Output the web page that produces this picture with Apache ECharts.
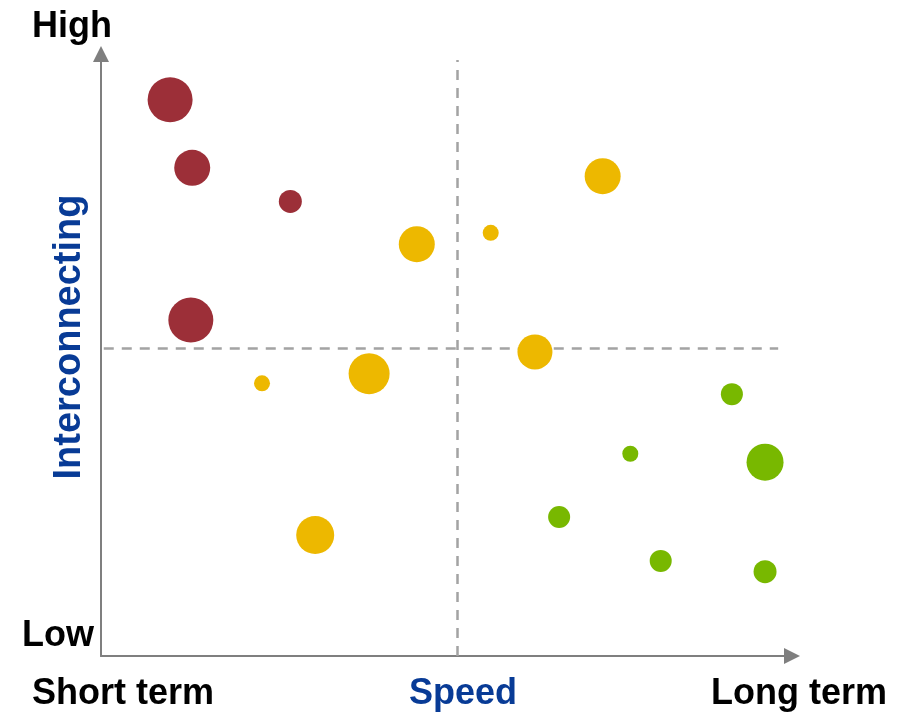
<!DOCTYPE html>
<html>
<head>
<meta charset="utf-8">
<script src="https://cdn.jsdelivr.net/npm/echarts@6/dist/echarts.min.js"></script>
<style>
html,body{margin:0;padding:0;background:#fff;}
#chart{width:909px;height:715px;}
</style>
</head>
<body>
<div id="chart"></div>
<script>
// Speed (x, 0 = short term .. 100 = long term), Interconnecting (y, 0 = low .. 100 = high), bubble diameter
const redX = [10.0, 13.2, 27.4, 13.0];
const redY = [92.4, 81.1, 75.5, 55.8];
const redSize = [45, 36, 23, 45];

const yellowX = [45.7, 56.4, 72.6, 62.8, 38.8, 23.3, 31.0];
const yellowY = [68.4, 70.3, 79.7, 50.5, 46.9, 45.3, 20.1];
const yellowSize = [36, 16, 36, 35, 41, 16, 38];

const greenX = [91.3, 76.6, 96.1, 66.3, 81.0, 96.1];
const greenY = [43.5, 33.6, 32.2, 23.1, 15.8, 14.0];
const greenSize = [22, 16, 37, 22, 22, 23];

const quadrantX = 51.5;
const quadrantY = 51.2;

const labels = {
  high: 'High', low: 'Low', shortTerm: 'Short term', longTerm: 'Long term',
  xName: 'Speed', yName: 'Interconnecting'
};

function pts(xs, ys, ss) {
  return xs.map((x, i) => [x, ys[i], ss[i]]);
}

const chart = echarts.init(document.getElementById('chart'), null, {renderer: 'canvas'});
const axisColor = '#7f7f7f';
const dashColor = '#a3a3a3';
const font = 'bold 36px "Liberation Sans", Arial, sans-serif';

function bubbleSeries(name, data, color, withMarks) {
  const s = {
    name, type: 'scatter', data,
    symbolSize: v => v[2],
    itemStyle: {color: color, opacity: 1},
    emphasis: {disabled: true},
    silent: true,
    z: 5
  };
  if (withMarks) {
    s.markLine = {
      silent: true,
      symbol: ['none', 'none'],
      label: {show: false},
      emphasis: {disabled: true},
      lineStyle: {color: dashColor, width: 2.5, type: [10, 8], opacity: 1},
      z: 1,
      data: [
        [{coord: [quadrantX, 0]}, {coord: [quadrantX, 99]}],
        [{coord: [0.4, quadrantY]}, {coord: [98, quadrantY]}]
      ]
    };
  }
  return s;
}

chart.setOption({
  animation: false,
  grid: {left: 101, right: 117, top: 54, bottom: 59},
  xAxis: {
    type: 'value', min: 0, max: 100,
    splitLine: {show: false}, axisTick: {show: false}, axisLabel: {show: false},
    axisLine: {show: true, onZero: false, lineStyle: {color: axisColor, width: 2},
      symbol: ['none', 'triangle'], symbolSize: [16, 16]}
  },
  yAxis: {
    type: 'value', min: 0, max: 100,
    splitLine: {show: false}, axisTick: {show: false}, axisLabel: {show: false},
    axisLine: {show: true, onZero: false, lineStyle: {color: axisColor, width: 2},
      symbol: ['none', 'triangle'], symbolSize: [16, 16]}
  },
  series: [
    bubbleSeries('Red', pts(redX, redY, redSize), '#9c2f38', true),
    bubbleSeries('Yellow', pts(yellowX, yellowY, yellowSize), '#edb800', false),
    bubbleSeries('Green', pts(greenX, greenY, greenSize), '#78b800', false)
  ],
  graphic: [
    {type: 'text', x: 32, y: 27, style: {text: labels.high, font: font, fill: '#000', align: 'left', verticalAlign: 'middle'}},
    {type: 'text', x: 22, y: 636, style: {text: labels.low, font: font, fill: '#000', align: 'left', verticalAlign: 'middle'}},
    {type: 'text', x: 32, y: 694, style: {text: labels.shortTerm, font: font, fill: '#000', align: 'left', verticalAlign: 'middle'}},
    {type: 'text', x: 463, y: 694, style: {text: labels.xName, font: font, fill: '#083b96', align: 'center', verticalAlign: 'middle'}},
    {type: 'text', x: 887, y: 694, style: {text: labels.longTerm, font: font, fill: '#000', align: 'right', verticalAlign: 'middle'}},
    {type: 'text', x: 70, y: 337, rotation: Math.PI / 2, style: {text: labels.yName, font: 'bold 38px "Liberation Sans", Arial, sans-serif', fill: '#083b96', align: 'center', verticalAlign: 'middle'}}
  ]
});
</script>
</body>
</html>
